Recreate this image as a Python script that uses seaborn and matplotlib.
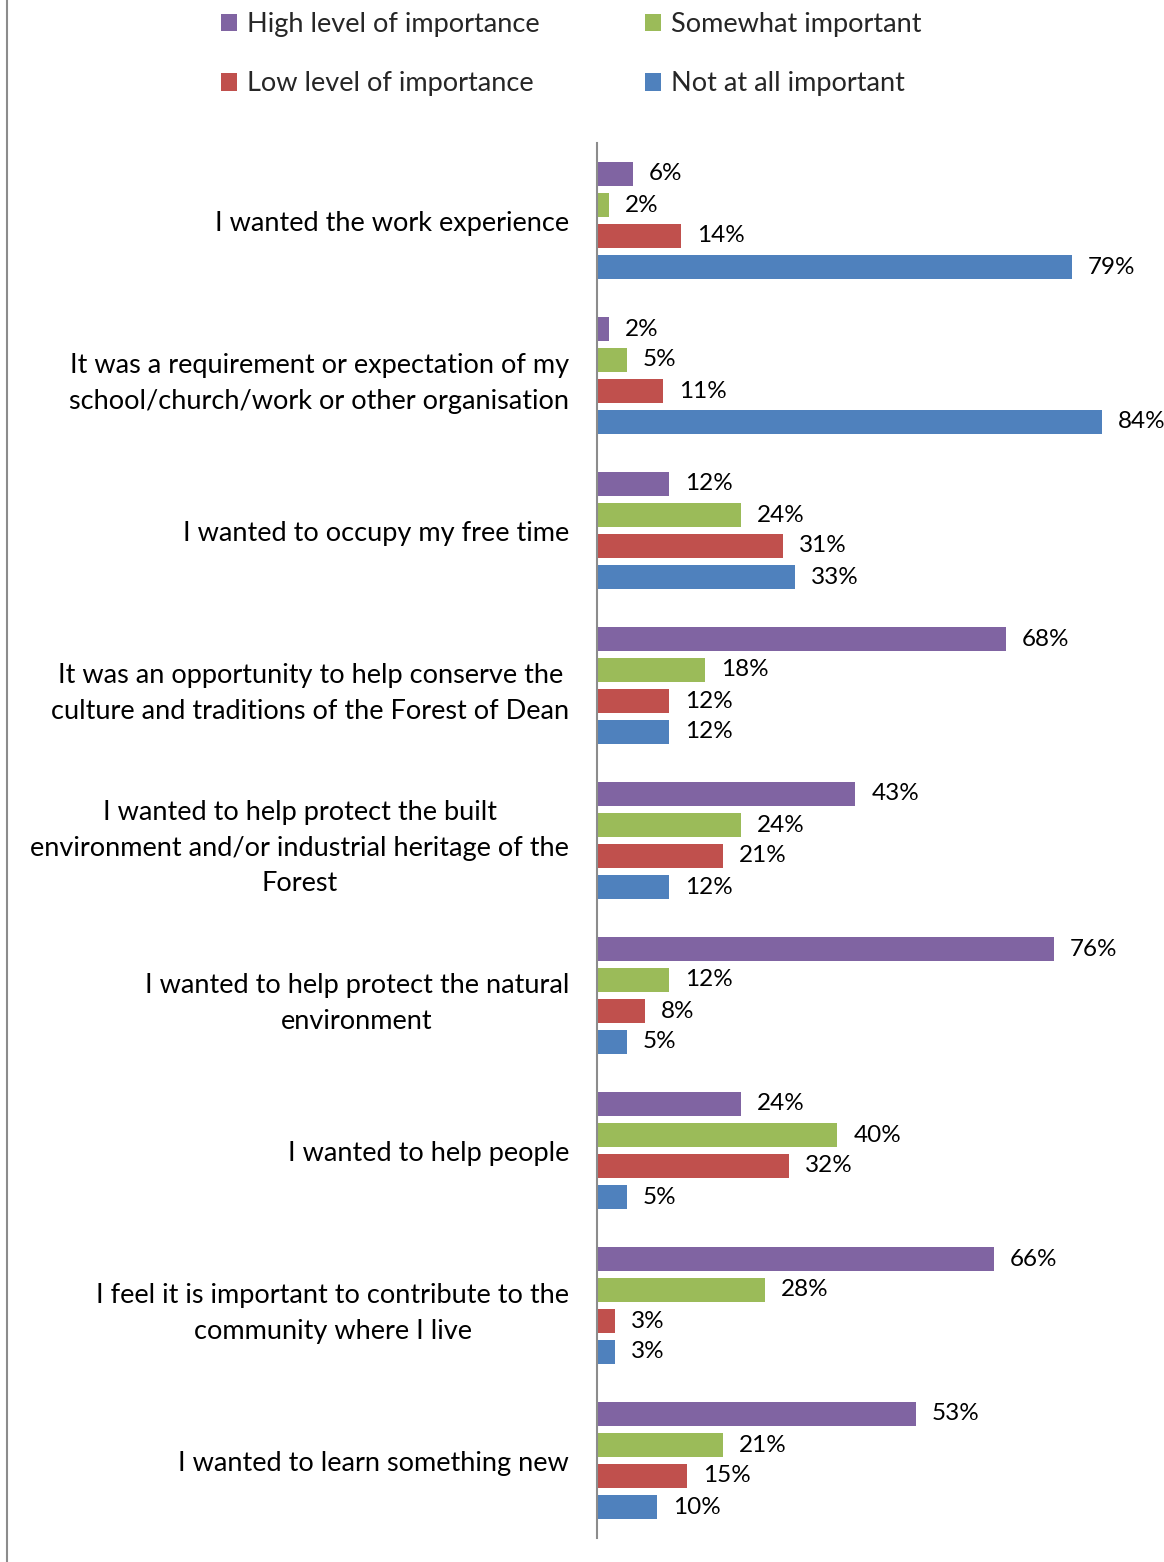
import matplotlib
matplotlib.use("Agg")
import matplotlib.pyplot as plt
from matplotlib.lines import Line2D
from matplotlib.patches import Patch
import seaborn as sns
import pandas as pd

categories = [
    "I wanted the work experience",
    "It was a requirement or expectation of my\nschool/church/work or other organisation",
    "I wanted to occupy my free time",
    "It was an opportunity to help conserve the\nculture and traditions of the Forest of Dean",
    "I wanted to help protect the built\nenvironment and/or industrial heritage of the\nForest",
    "I wanted to help protect the natural\nenvironment",
    "I wanted to help people",
    "I feel it is important to contribute to the\ncommunity where I live",
    "I wanted to learn something new",
]
levels = ["High level of importance", "Somewhat important",
          "Low level of importance", "Not at all important"]

high = [6, 2, 12, 68, 43, 76, 24, 66, 53]
somewhat = [2, 5, 24, 18, 24, 12, 40, 28, 21]
low = [14, 11, 31, 12, 21, 8, 32, 3, 15]
not_at_all = [79, 84, 33, 12, 12, 5, 5, 3, 10]

colors = ["#8064A2", "#9BBB59", "#C0504D", "#4F81BD"]

rows = []
for lvl, vals in zip(levels, [high, somewhat, low, not_at_all]):
    for cat, v in zip(categories, vals):
        rows.append({"category": cat, "level": lvl, "value": v})
df = pd.DataFrame(rows)

sns.set_theme(style="white")
plt.rcParams["font.family"] = ["Lato", "DejaVu Sans"]

W, H = 1164, 1562
fig = plt.figure(figsize=(W / 100, H / 100), dpi=100)
ax = fig.add_axes([597 / W, 24 / H, (90 * 6.01) / W, (1538 - 143) / H])

sns.barplot(data=df, y="category", x="value", hue="level",
            order=categories, hue_order=levels, palette=colors,
            orient="h", width=0.8, gap=0.2, saturation=1,
            edgecolor="none", legend=False, ax=ax)

ax.set_xlim(0, 90)
ax.set_ylim(len(categories) - 0.5, -0.5)
ax.set_xlabel("")
ax.set_ylabel("")
ax.set_xticks([])
for side in ["top", "right", "bottom"]:
    ax.spines[side].set_visible(False)
ax.spines["left"].set_color("#8c8c8c")
ax.spines["left"].set_linewidth(1.5)

ax.tick_params(axis="y", length=0, pad=20, labelsize=19.5, labelcolor="black")
for lab in ax.get_yticklabels():
    lab.set_multialignment("center")
    lab.set_linespacing(1.53)

for cont in ax.containers:
    labels = [f"{int(round(b.get_width()))}%" for b in cont]
    ax.bar_label(cont, labels=labels, padding=11.5, fontsize=17.5,
                 color="black", clip_on=False)

handles = [Patch(facecolor=c, edgecolor="none") for c in colors]
order = [0, 2, 1, 3]
fig.legend([handles[i] for i in order], [levels[i] for i in order],
           ncol=2, loc="upper left", bbox_to_anchor=(210 / W, 1 - 1 / H),
           frameon=False, fontsize=19.5, handlelength=0.6, handleheight=0.6,
           handletextpad=0.35, columnspacing=3.9, labelspacing=1.28,
           borderaxespad=0)

fig.add_artist(Line2D([7 / W, 7 / W], [0, 1], color="#8c8c8c", lw=1.5,
                      transform=fig.transFigure))

fig.savefig("out.png", dpi=100, facecolor="white")
